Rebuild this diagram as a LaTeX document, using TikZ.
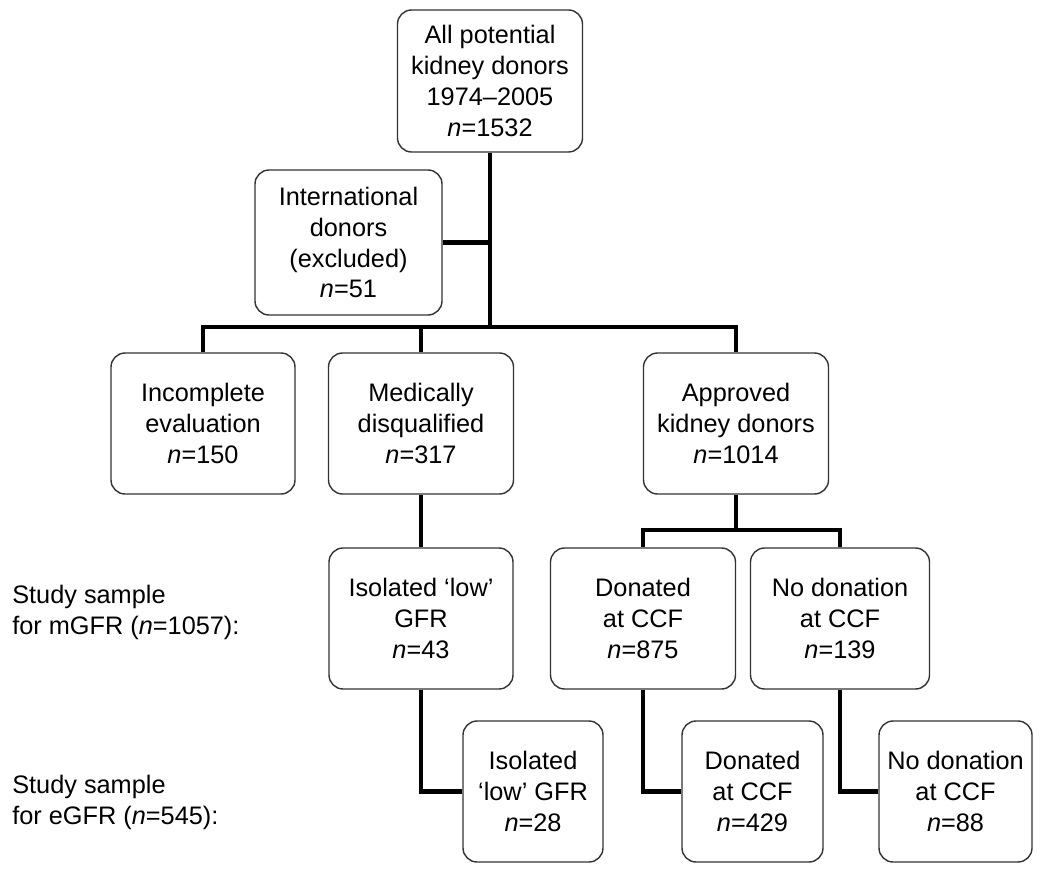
\documentclass[tikz,border=0pt]{standalone}
\usepackage{fontspec}
\setmainfont{Liberation Sans}
\usetikzlibrary{calc}
\tikzset{
  box/.style={draw=black!80, line width=1pt, rounded corners=10pt, align=center,
    inner sep=0pt, minimum width=#1, minimum height=141*0.025cm},
  box/.default=185*0.025cm,
  link/.style={line width=3.2pt, black},
  side/.style={anchor=west, align=left, inner sep=0pt}
}
\newcommand{\nn}{\textit{n}}
\begin{document}
\begin{tikzpicture}[x=0.025cm, y=-0.025cm, font=\fontsize{18}{22}\selectfont]
  \useasboundingbox (0,0) rectangle (1050,879);
	\node[box, minimum height=142*0.025cm] (top) at (490, 81) {All potential\\kidney donors\\1974–2005\\\nn=1532};
	\node[box=187*0.025cm, minimum height=145*0.025cm] (intl) at (348.5, 242.5) {International\\donors\\(excluded)\\\nn=51};
	\node[box=184*0.025cm] (incomplete) at (203, 423.5) {Incomplete\\evaluation\\\nn=150};
	\node[box] (medical) at (421, 423.5) {Medically\\disqualified\\\nn=317};
	\node[box] (approved) at (736, 423.5) {Approved\\kidney donors\\\nn=1014};
	\node[box=184*0.025cm] (isolA) at (421, 618.5) {Isolated ‘low’\\GFR\\\nn=43};
	\node[box] (donA) at (643, 618.5) {Donated\\at CCF\\\nn=875};
	\node[box=179*0.025cm] (nodonA) at (840, 618.5) {No donation\\at CCF\\\nn=139};
	\node[box=140*0.025cm] (isolB) at (533, 791.5) {Isolated\\‘low’ GFR\\\nn=28};
	\node[box=141*0.025cm] (donB) at (752.5, 791.5) {Donated\\at CCF\\\nn=429};
	\node[box=153*0.025cm] (nodonB) at (955.5, 791.5) {No donation\\at CCF\\\nn=88};
	\node[side] (mgfr) at (12, 612.5) {Study sample\\for mGFR (\nn=1057):};
	\node[side] (egfr) at (12, 802) {Study sample\\for eGFR (\nn=545):};
	\coordinate (bus) at (0, 327);
	\coordinate (subbus) at (0, 530);
	\draw[link] (top.south) -- (top.south |- bus);
	\draw[link] (intl.east) -- (intl.east -| top.south);
	\draw[link] (incomplete.north) -- (incomplete.north |- bus) -- (approved.north |- bus) -- (approved.north);
	\draw[link] (medical.north) -- (medical.north |- bus);
	\draw[link] (medical.south) -- (isolA.north);
	\draw[link] (approved.south) -- (approved.south |- subbus);
	\draw[link] (donA.north) -- (donA.north |- subbus) -- (nodonA.north |- subbus) -- (nodonA.north);
	\draw[link] (isolA.south) |- (isolB.west);
	\draw[link] (donA.south) |- (donB.west);
	\draw[link] (nodonA.south) |- (nodonB.west);
\end{tikzpicture}
\end{document}
